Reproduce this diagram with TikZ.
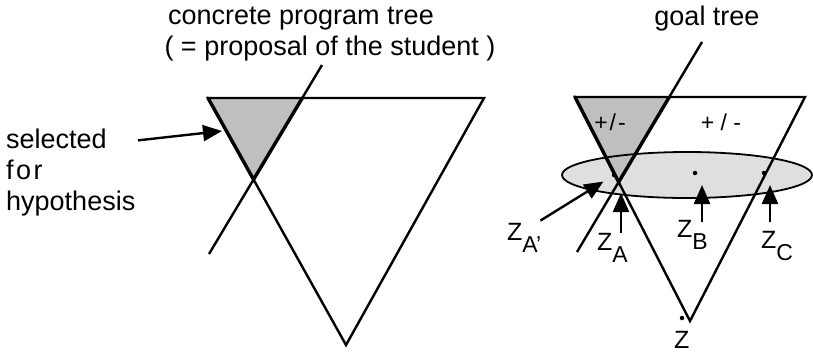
\documentclass[tikz,border=0pt]{standalone}
\usepackage{fontspec}
\setmainfont{Liberation Sans}
\usetikzlibrary{arrows.meta}

\tikzset{
  tree/.style={line width=2.4pt, line join=miter},
  cut/.style={line width=3.4pt, line cap=round},
  hyp/.style={fill=gray!50},
  zone/.style={fill=gray!25},
  tip/.style={line width=2.4pt, -{Triangle[length=19pt,width=16pt]}},
  lbl/.style={font=\fontsize{27}{30}\selectfont, inner sep=0pt},
  zlbl/.style={font=\fontsize{25}{27}\selectfont, inner sep=0pt, anchor=base west},
  pm/.style={font=\fontsize{23}{24}\selectfont, inner sep=0pt},
  zdot/.style={circle, fill, inner sep=0pt, minimum size=4.5pt},
}
\newcommand{\zlab}[1]{Z\raisebox{-12pt}{\fontsize{23}{23}\selectfont #1}}

\begin{document}
\begin{tikzpicture}[x=1pt, y=-1pt]
  \useasboundingbox (0,0) rectangle (813,354);

  % concrete program tree
  \coordinate (lTL) at (208,98);
  \coordinate (lTR) at (484,98);
  \coordinate (lB) at (346,345);
  \coordinate (lP) at (322,65);
  \coordinate (lQ) at (209,254);
  \coordinate (lX) at (intersection of lTL--lB and lP--lQ);
  \coordinate (lY) at (intersection of lTL--lTR and lP--lQ);
  \fill[hyp] (lTL) -- (lY) -- (lX) -- cycle;
  \draw[tree] (lTL) -- (lTR) -- (lB) -- cycle;
  \draw[tree] (lP) -- (lQ);
  \draw[cut] (lTL) -- (lX) -- (lY);

  \node[lbl, anchor=base] (ctitle) at (301,24) {concrete program tree};
  \node[lbl, anchor=base] (csub) at (330,55) {( = proposal of the student )};

  \node[lbl, anchor=base west] (selA) at (6,148) {selected};
  \node[lbl, anchor=base west] (selB) at (6,179) {f\hspace{2.5pt}o\hspace{2.5pt}r};
  \node[lbl, anchor=base west] (selC) at (6,210) {hypothesis};
  \coordinate (selH) at (222,131);
  \draw[tip] ([xshift=31pt, yshift=-2pt]selA.east) -- (selH);

  % goal tree
  \coordinate (rTL) at (575,97);
  \coordinate (rTR) at (805,97);
  \coordinate (rB) at (690,321);
  \coordinate (rP) at (702,42);
  \coordinate (rQ) at (577,252);
  \coordinate (rX) at (intersection of rTL--rB and rP--rQ);
  \coordinate (rY) at (intersection of rTL--rTR and rP--rQ);
  \fill[zone] (687,175) ellipse [x radius=125pt, y radius=23pt];
  \fill[hyp] (rTL) -- (rY) -- (rX) -- cycle;
  \draw[line width=1.8pt] (687,175) ellipse [x radius=125pt, y radius=23pt];
  \draw[tree] (rTL) -- (rTR) -- (rB) -- cycle;
  \draw[tree] (rP) -- (rQ);
  \draw[cut] (rTL) -- (rX) -- (rY);

  \node[lbl, anchor=base] (gtitle) at (707,25) {goal tree};
  \node[pm] (pmA) at (610,122) {\spaceskip=2pt + / -};
  \node[pm] (pmB) at (721,122) {+ / -};

  \node[zdot] (dA) at (614,175) {};
  \node[zdot] (dB) at (695,173) {};
  \node[zdot] (dC) at (764,173) {};
  \node[zdot] (dZ) at (682,318) {};

  \node[zlbl] (zA1) at (507,240) {\zlab{A'}};
  \node[zlbl] (zA) at (597,250) {\zlab{A}};
  \node[zlbl] (zB) at (677,237) {\zlab{B}};
  \node[zlbl] (zC) at (761,248) {\zlab{C}};
  \node[zlbl] (zZ) at (674,348) {Z};

  \draw[tip, shorten >=10pt] ([xshift=-1pt, yshift=2pt]zA1.north east) -- (dA);
  \draw[tip, shorten >=11pt] ([xshift=-7pt]zA.north east) coordinate (tA) -- (tA |- rX);
  \draw[tip, shorten >=12pt] ([xshift=-6pt, yshift=-2pt]zB.north east) coordinate (tB) -- (tB |- dB);
  \draw[tip, shorten >=12pt] ([xshift=9pt, yshift=9pt]zC.north west) coordinate (tC) -- (tC |- dC);
\end{tikzpicture}
\end{document}
